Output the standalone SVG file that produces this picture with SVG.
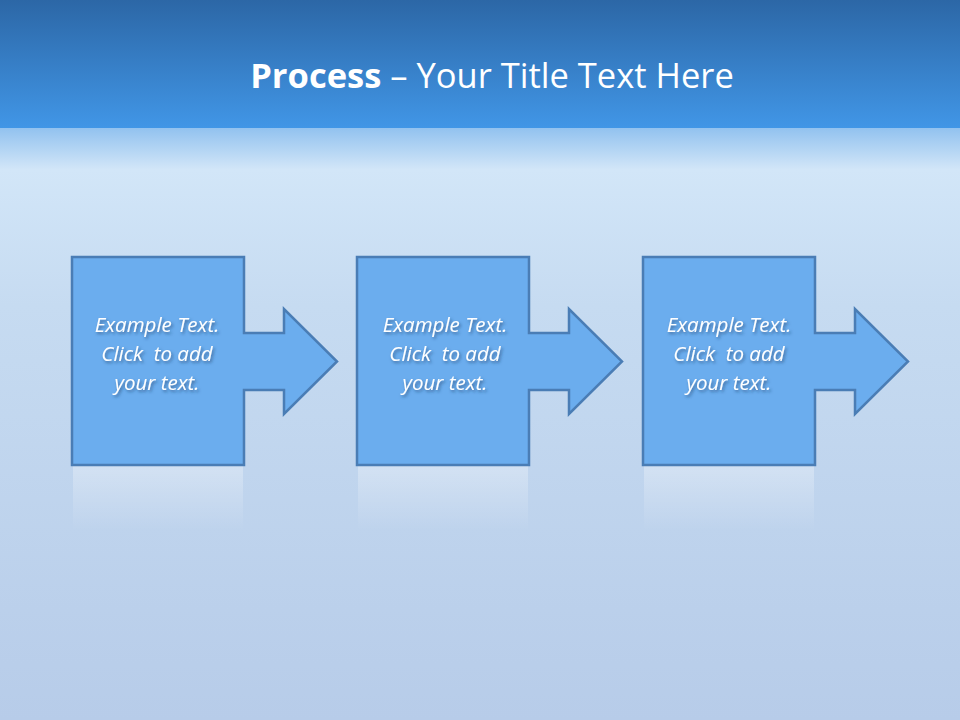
<svg xmlns="http://www.w3.org/2000/svg" width="960" height="720" viewBox="0 0 960 720">
<defs>
<linearGradient id="hdr" x1="0" y1="0" x2="0" y2="1">
<stop offset="0" stop-color="#2c67a6"/>
<stop offset="1" stop-color="#4196e6"/>
</linearGradient>
<linearGradient id="bg" x1="0" y1="0" x2="0" y2="1">
<stop offset="0" stop-color="#92c2ef"/>
<stop offset="0.07" stop-color="#d2e6f8"/>
<stop offset="0.3" stop-color="#c6dbf1"/>
<stop offset="1" stop-color="#b7cce9"/>
</linearGradient>
<linearGradient id="refl" x1="0" y1="0" x2="0" y2="1">
<stop offset="0" stop-color="#ffffff" stop-opacity="0.3"/>
<stop offset="1" stop-color="#ffffff" stop-opacity="0"/>
</linearGradient>
<filter id="ts" x="-20%" y="-40%" width="140%" height="180%">
<feDropShadow dx="1.5" dy="2" stdDeviation="1.5" flood-color="#1a3d66" flood-opacity="0.6"/>
</filter>
<path id="shape" d="M0 0 H172 V76 H212 V52 L265 104.5 L212 157 V133 H172 V208 H0 Z"/>
</defs>
<style>
.node{fill:#6badee;stroke:#4a7db5;stroke-width:2.5;stroke-linejoin:miter}
.lbl{font-family:"Open Sans","Liberation Sans",sans-serif;font-style:italic;font-size:20.5px;fill:#ffffff;text-anchor:middle;white-space:pre}
.title{font-family:"Open Sans","Liberation Sans",sans-serif;font-size:34.5px;fill:#ffffff;text-anchor:middle}
</style>
<rect x="0" y="128" width="960" height="592" fill="url(#bg)"/>
<rect x="0" y="0" width="960" height="128" fill="url(#hdr)"/>
<text class="title" x="492" y="88"><tspan font-weight="bold">Process</tspan> – Your Title Text Here</text>
<g id="reflections">
<rect x="73" y="466" width="170" height="65" fill="url(#refl)"/>
<rect x="358" y="466" width="170" height="65" fill="url(#refl)"/>
<rect x="644" y="466" width="170" height="65" fill="url(#refl)"/>
</g>
<g id="connectors"></g>
<g id="node1">
<use href="#shape" class="node" x="72" y="257"/>
<g class="lbl" filter="url(#ts)">
<text x="157" y="332">Example Text.</text>
<text x="157" y="361" xml:space="preserve">Click  to add</text>
<text x="157" y="390">your text.</text>
</g>
</g>
<g id="node2">
<use href="#shape" class="node" x="357" y="257"/>
<g class="lbl" filter="url(#ts)">
<text x="445" y="332">Example Text.</text>
<text x="445" y="361" xml:space="preserve">Click  to add</text>
<text x="445" y="390">your text.</text>
</g>
</g>
<g id="node3">
<use href="#shape" class="node" x="643" y="257"/>
<g class="lbl" filter="url(#ts)">
<text x="729" y="332">Example Text.</text>
<text x="729" y="361" xml:space="preserve">Click  to add</text>
<text x="729" y="390">your text.</text>
</g>
</g>
</svg>
